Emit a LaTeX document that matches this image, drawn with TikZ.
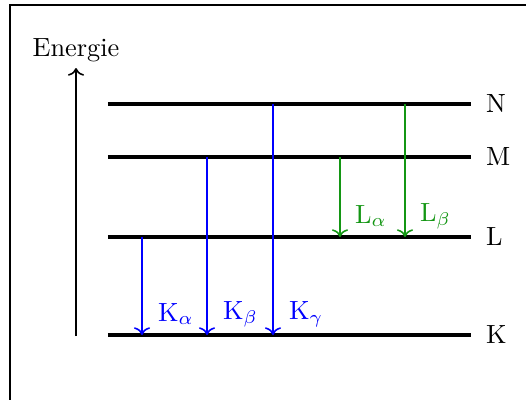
\documentclass[tikz,border=0pt]{standalone}
\usepackage{amsmath}
\usepackage{tikz}
\usetikzlibrary{positioning,arrows.meta}
\definecolor{lgreen}{RGB}{20,150,20}
\tikzset{
  lvl/.style  = {line width=1.3pt},
  lvlname/.style = {anchor=west, inner sep=1pt},
  kline/.style = {->, blue, line width=0.6pt},
  lline/.style = {->, lgreen, line width=0.6pt},
  klbl/.style = {anchor=west, blue, inner sep=1pt},
  llbl/.style = {anchor=west, lgreen, inner sep=1pt},
}
\begin{document}
\begin{tikzpicture}[x=0.38pt, y=-0.38pt]
\useasboundingbox (0,0) rectangle (526,399);
\draw[line width=0.5pt] (10,420) -- (10,5) -- (540,5);
% energy axis
\coordinate (e0) at (76,336);
\coordinate (e1) at (76,68);
\draw[->, line width=0.6pt] (e0) -- (e1);
\node (energie) at (76,50) {Energie};
% levels
\foreach \name/\y in {N/104, M/157, L/237, K/335} {
  \coordinate (\name l) at (108,\y);
  \coordinate (\name r) at (471,\y);
  \draw[lvl] (\name l) -- (\name r);
  \node[lvlname] (\name) at (483,\y) {\name};
}
% K series
\draw[kline] (142,237) coordinate (ka0) -- (142,335) coordinate (ka1);
\draw[kline] (207,157) coordinate (kb0) -- (207,335) coordinate (kb1);
\draw[kline] (273,104) coordinate (kg0) -- (273,335) coordinate (kg1);
\node[klbl] (kalpha) at (155,314) {K$_\alpha$};
\node[klbl] (kbeta)  at (220,314) {K$_\beta$};
\node[klbl] (kgamma) at (286,314) {K$_\gamma$};
% L series
\draw[lline] (340,157) coordinate (la0) -- (340,237) coordinate (la1);
\draw[lline] (405,104) coordinate (lb0) -- (405,237) coordinate (lb1);
\node[llbl] (lalpha) at (352,216) {L$_\alpha$};
\node[llbl] (lbeta)  at (417,216) {L$_\beta$};
\end{tikzpicture}
\end{document}
